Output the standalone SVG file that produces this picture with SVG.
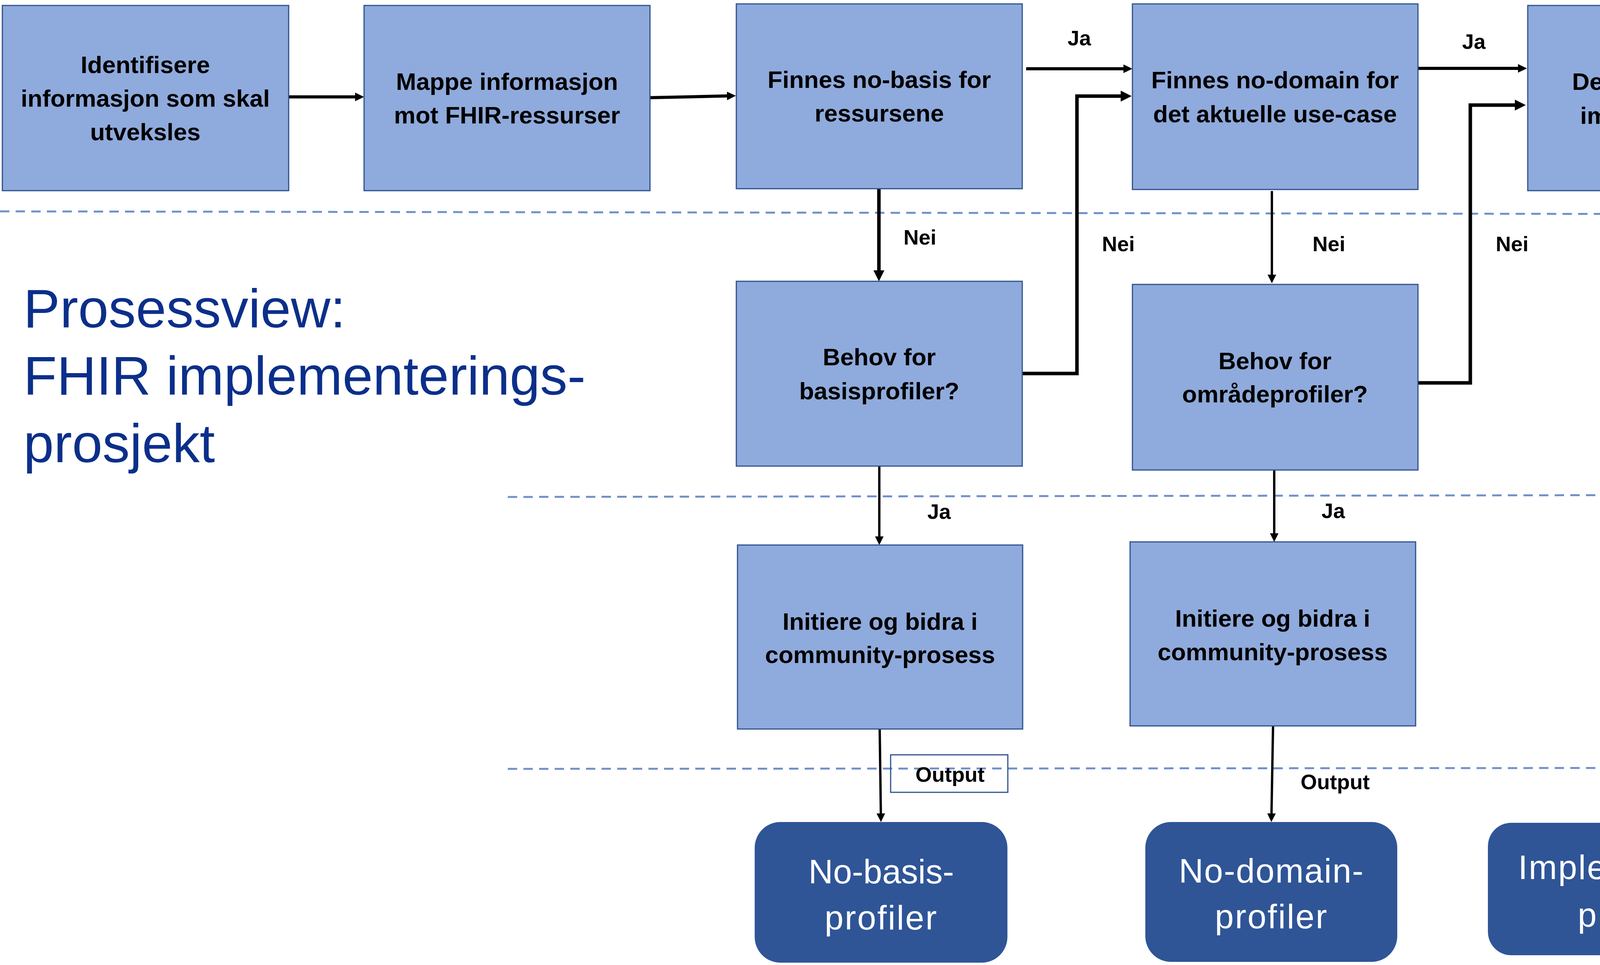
<svg xmlns="http://www.w3.org/2000/svg" width="4994" height="2470" viewBox="0 0 4994 2470">
<style>
.box{fill:#8FAADC;stroke:#2F528F;stroke-width:3}
.bt{font-family:"Liberation Sans",Arial,sans-serif;font-weight:bold;font-size:62px;fill:#000;text-anchor:middle}
.lbl{font-family:"Liberation Sans",Arial,sans-serif;font-weight:bold;font-size:54px;fill:#000;text-anchor:middle}
.out{fill:#2F5597}
.ot{font-family:"Liberation Sans",Arial,sans-serif;font-size:87px;fill:#FFFFFF;text-anchor:middle}
.lane{font-family:"Liberation Sans",Arial,sans-serif;font-size:86px;fill:#2F5597;text-anchor:middle}
.title{font-family:"Liberation Sans",Arial,sans-serif;font-size:140px;fill:#0B2F8A}
.dash{stroke:#7090CC;stroke-width:5;stroke-dasharray:24 16;fill:none}
.c{stroke:#000;fill:none}
.a{stroke-width:8;marker-end:url(#ha)}
.b{stroke-width:9;marker-end:url(#hb)}
.s{stroke-width:6;marker-end:url(#hs)}
</style>
<defs>
<marker id="ha" viewBox="0 0 23 22" refX="2" refY="11" markerWidth="23" markerHeight="22" markerUnits="userSpaceOnUse" orient="auto">
<path d="M0,0 L23,11 L0,22 Z" fill="#000"/>
</marker>
<marker id="hb" viewBox="0 0 28 28" refX="2" refY="14" markerWidth="28" markerHeight="28" markerUnits="userSpaceOnUse" orient="auto">
<path d="M0,0 L28,14 L0,28 Z" fill="#000"/>
</marker>
<marker id="hs" viewBox="0 0 22 22" refX="2" refY="11" markerWidth="22" markerHeight="22" markerUnits="userSpaceOnUse" orient="auto">
<path d="M0,0 L22,11 L0,22 Z" fill="#000"/>
</marker>
</defs>
<rect width="4994" height="2470" fill="#FFFFFF"/>

<g id="lanes">
<line class="dash" x1="0" y1="541" x2="4994" y2="549"/>
<line class="dash" x1="1300" y1="1272" x2="4994" y2="1266"/>
<line class="dash" x1="1300" y1="1968" x2="4994" y2="1965"/>
<text class="lane" transform="translate(4853,260) rotate(90)">Prosjekt</text>
<text class="lane" transform="translate(4846,888) rotate(90)">HL7 Norge TSK</text>
<text class="lane" transform="translate(4899,1631) rotate(90)">Prosjekt +</text>
<text class="lane" transform="translate(4781,1630) rotate(90)">HL7 Community</text>
</g>

<g id="title">
<text class="title" x="60" y="838">Prosessview:</text>
<text class="title" x="60" y="1010">FHIR implementerings-</text>
<text class="title" x="60" y="1183">prosjekt</text>
</g>

<g id="connectors">
<path class="c a" d="M739,248 L911,248"/>
<path class="c a" d="M1664,250 L1863,245.5"/>
<path class="c a" d="M2627,176 L2878,176"/>
<path class="c a" d="M3630,175 L3888,175"/>
<path class="c b" d="M2250,483 L2250,694"/>
<path class="c b" d="M2617,956 L2757,956 L2757,246 L2871,246"/>
<path class="c s" d="M3256,489 L3256,705"/>
<path class="c b" d="M3630,980 L3764,980 L3764,269 L3880,269"/>
<path class="c s" d="M4200,488 L4193,2086"/>
<path class="c s" d="M2251,1193 L2251,1375"/>
<path class="c s" d="M3262,1203 L3262,1367"/>
<path class="c s" d="M2252,1866 L2255,2084"/>
<path class="c s" d="M3259,1858 L3255,2084"/>
<text class="lbl" x="2763" y="116">Ja</text>
<text class="lbl" x="3773" y="125">Ja</text>
<text class="lbl" x="2355" y="626">Nei</text>
<text class="lbl" x="2863" y="643">Nei</text>
<text class="lbl" x="3402" y="643">Nei</text>
<text class="lbl" x="3871" y="643">Nei</text>
<text class="lbl" x="4458" y="643">Output</text>
<text class="lbl" x="2404" y="1328">Ja</text>
<text class="lbl" x="3413" y="1326">Ja</text>
<rect x="2280" y="1932" width="300" height="96" fill="none" stroke="#2F528F" stroke-width="3"/>
<text class="lbl" x="2432" y="2001">Output</text>
<text class="lbl" x="3418" y="2020">Output</text>
</g>

<g id="n1">
<rect class="box" x="6" y="14" width="733" height="474"/>
<text class="bt" x="372" y="187">Identifisere</text>
<text class="bt" x="372" y="273">informasjon som skal</text>
<text class="bt" x="372" y="359">utveksles</text>
</g>
<g id="n2">
<rect class="box" x="932" y="14" width="732" height="474"/>
<text class="bt" x="1298" y="230">Mappe informasjon</text>
<text class="bt" x="1298" y="316">mot FHIR-ressurser</text>
</g>
<g id="n3">
<rect class="box" x="1885" y="10" width="732" height="473"/>
<text class="bt" x="2251" y="225">Finnes no-basis for</text>
<text class="bt" x="2251" y="311">ressursene</text>
</g>
<g id="n4">
<rect class="box" x="2899" y="10" width="731" height="475"/>
<text class="bt" x="3264" y="226">Finnes no-domain for</text>
<text class="bt" x="3264" y="313">det aktuelle use-case</text>
</g>
<g id="n5">
<rect class="box" x="3911" y="14" width="731" height="474"/>
<text class="bt" x="4276" y="230" xml:space="preserve">Definer profil  for</text>
<text class="bt" x="4276" y="317">implementering</text>
</g>
<g id="n6">
<rect class="box" x="1885" y="720" width="732" height="473"/>
<text class="bt" x="2251" y="935">Behov for</text>
<text class="bt" x="2251" y="1022">basisprofiler?</text>
</g>
<g id="n7">
<rect class="box" x="2899" y="728" width="731" height="475"/>
<text class="bt" x="3264" y="945">Behov for</text>
<text class="bt" x="3264" y="1030">områdeprofiler?</text>
</g>
<g id="n8">
<rect class="box" x="1888" y="1395" width="730" height="471"/>
<text class="bt" x="2253" y="1612">Initiere og bidra i</text>
<text class="bt" x="2253" y="1697">community-prosess</text>
</g>
<g id="n9">
<rect class="box" x="2893" y="1387" width="731" height="471"/>
<text class="bt" x="3258" y="1604">Initiere og bidra i</text>
<text class="bt" x="3258" y="1690">community-prosess</text>
</g>
<g id="o1">
<rect class="out" x="1932" y="2104" width="647" height="360" rx="66" ry="66"/>
<text class="ot" x="2256" y="2261">No-basis-</text>
<text class="ot" x="2256" y="2379" letter-spacing="3">profiler</text>
</g>
<g id="o2">
<rect class="out" x="2932" y="2104" width="645" height="358" rx="66" ry="66"/>
<text class="ot" x="3255" y="2259" letter-spacing="2">No-domain-</text>
<text class="ot" x="3255" y="2376" letter-spacing="3">profiler</text>
</g>
<g id="o3">
<rect class="out" x="3809" y="2106" width="749" height="339" rx="60" ry="60"/>
<text class="ot" x="4184" y="2250" letter-spacing="3">Implementerte</text>
<text class="ot" x="4184" y="2372" letter-spacing="3">profiler</text>
</g>
</svg>
